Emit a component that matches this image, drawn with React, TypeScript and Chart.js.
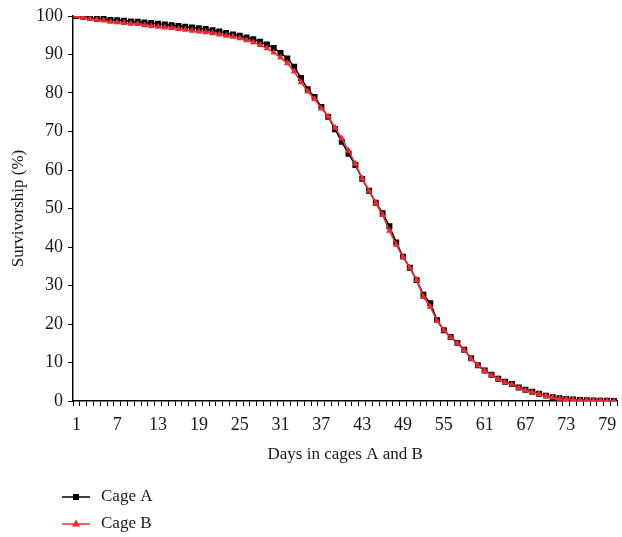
import React, { useEffect, useRef } from "react";
import { Chart, registerables } from "chart.js";

Chart.register(...registerables);

const days: string[] = Array.from({ length: 80 }, (_, i) => String(i + 1));

const cageA: number[] = [
  100, 99.8, 99.5, 99.3, 99.2, 99.0, 98.9, 98.8, 98.6, 98.5,
  98.3, 98.2, 98.0, 97.8, 97.6, 97.4, 97.2, 97.0, 96.8, 96.6,
  96.3, 96.0, 95.6, 95.2, 94.9, 94.4, 94.0, 93.3, 92.6, 91.7,
  90.4, 89.0, 86.8, 83.9, 81.0, 79.0, 76.4, 73.8, 70.6, 67.3,
  64.2, 61.3, 57.7, 54.6, 51.5, 48.8, 45.4, 41.2, 37.5, 34.6,
  31.4, 27.6, 25.4, 21.0, 18.4, 16.6, 15.1, 13.3, 11.1, 9.3,
  7.9, 6.8, 5.8, 5.0, 4.4, 3.5, 2.9, 2.4, 1.9, 1.4,
  1.0, 0.7, 0.5, 0.4, 0.3, 0.2, 0.15, 0.1, 0.05, 0,
];

const cageB: number[] = [
  100, 99.6, 99.2, 99.0, 98.8, 98.5, 98.4, 98.2, 98.0, 97.9,
  97.6, 97.4, 97.2, 97.0, 96.9, 96.6, 96.4, 96.2, 96.0, 95.8,
  95.5, 95.2, 94.9, 94.6, 94.2, 93.7, 93.2, 92.5, 91.6, 90.5,
  89.2, 87.7, 85.6, 82.8, 80.4, 78.4, 76.0, 73.9, 71.0, 68.2,
  65.0, 61.6, 57.8, 54.6, 51.4, 48.3, 44.2, 40.6, 37.4, 34.6,
  31.4, 27.0, 24.5, 20.8, 18.4, 16.5, 15.0, 13.2, 11.0, 9.2,
  7.8, 6.7, 5.7, 4.9, 4.3, 3.4, 2.8, 2.3, 1.8, 1.3,
  0.9, 0.6, 0.5, 0.35, 0.25, 0.2, 0.15, 0.1, 0.05, 0,
];

const seriesNames = ["Cage A", "Cage B"];
const yTitle = "Survivorship (%)";
const xTitle = "Days in cages A and B";

const FONT = "'Liberation Serif', 'Times New Roman', serif";
const TEXT = "#1a1718";
const RED = "#ee2a2f";

const legendPlugin = {
  id: "stackedLegend",
  afterDraw(chart: any) {
    const ctx = chart.ctx;
    ctx.save();
    chart.data.datasets.forEach((ds: any, i: number) => {
      const y = 497 + 27 * i;
      ctx.strokeStyle = ds.borderColor;
      ctx.lineWidth = 1.5;
      ctx.beginPath();
      ctx.moveTo(62, y);
      ctx.lineTo(90, y);
      ctx.stroke();
      ctx.fillStyle = ds.backgroundColor;
      ctx.beginPath();
      if (ds.pointStyle === "rect") {
        ctx.rect(73, y - 3, 6, 6);
      } else {
        ctx.moveTo(76, y - 4.5);
        ctx.lineTo(80, y + 2.5);
        ctx.lineTo(72, y + 2.5);
        ctx.closePath();
      }
      ctx.fill();
      ctx.fillStyle = TEXT;
      ctx.font = `17px ${FONT}`;
      ctx.textBaseline = "middle";
      ctx.textAlign = "left";
      ctx.fillText(ds.label, 101, y);
    });
    ctx.restore();
  },
};

export default function App() {
  const ref = useRef<HTMLCanvasElement | null>(null);

  useEffect(() => {
    if (!ref.current) return;
    const chart = new Chart(ref.current, {
      type: "line",
      data: {
        labels: days,
        datasets: [
          {
            label: seriesNames[0],
            data: cageA,
            order: 1,
            borderColor: "#000000",
            backgroundColor: "#000000",
            borderWidth: 1.5,
            pointStyle: "rect",
            pointRadius: 4.2,
            pointBorderWidth: 0,
            tension: 0,
          },
          {
            label: seriesNames[1],
            data: cageB,
            order: 0,
            borderColor: RED,
            backgroundColor: RED,
            borderWidth: 1.5,
            pointStyle: "triangle",
            pointRadius: 4,
            pointBorderWidth: 0,
            tension: 0,
          },
        ],
      },
      options: {
        animation: false,
        responsive: false,
        maintainAspectRatio: false,
        layout: { padding: { left: 0, right: 3, top: 16, bottom: 68 } },
        plugins: {
          legend: { display: false },
          tooltip: { enabled: false },
        },
        scales: {
          x: {
            type: "category",
            offset: true,
            afterFit(scale: any) {
              scale.height = 68;
            },
            grid: {
              display: true,
              offset: true,
              drawOnChartArea: false,
              drawTicks: true,
              tickLength: 5,
              tickColor: "#000",
              tickWidth: 1,
            },
            border: { display: true, color: "#000", width: 1.5 },
            ticks: {
              autoSkip: false,
              maxRotation: 0,
              minRotation: 0,
              padding: 8,
              color: TEXT,
              font: { family: FONT, size: 18 },
              callback: (_v: any, i: number) => (i % 6 === 0 ? days[i] : ""),
            },
            title: {
              display: true,
              text: xTitle,
              color: TEXT,
              font: { family: FONT, size: 17 },
              padding: { top: 4, bottom: 4 },
            },
          },
          y: {
            min: 0,
            max: 100,
            afterFit(scale: any) {
              scale.width = 73;
            },
            grid: {
              display: true,
              drawOnChartArea: false,
              drawTicks: true,
              tickLength: 5,
              tickColor: "#000",
              tickWidth: 1,
            },
            border: { display: true, color: "#000", width: 1.5 },
            ticks: {
              stepSize: 10,
              padding: 5,
              color: TEXT,
              font: { family: FONT, size: 18 },
            },
            title: {
              display: true,
              text: yTitle,
              color: TEXT,
              font: { family: FONT, size: 17 },
              padding: { top: 8, bottom: 4 },
            },
          },
        },
      },
      plugins: [legendPlugin],
    });
    return () => chart.destroy();
  }, []);

  return (
    <div
      style={{
        position: "fixed",
        left: 0,
        top: 0,
        width: 622,
        height: 537,
        background: "#fff",
      }}
    >
      <canvas ref={ref} width={622} height={537} style={{ width: 622, height: 537 }} />
    </div>
  );
}
